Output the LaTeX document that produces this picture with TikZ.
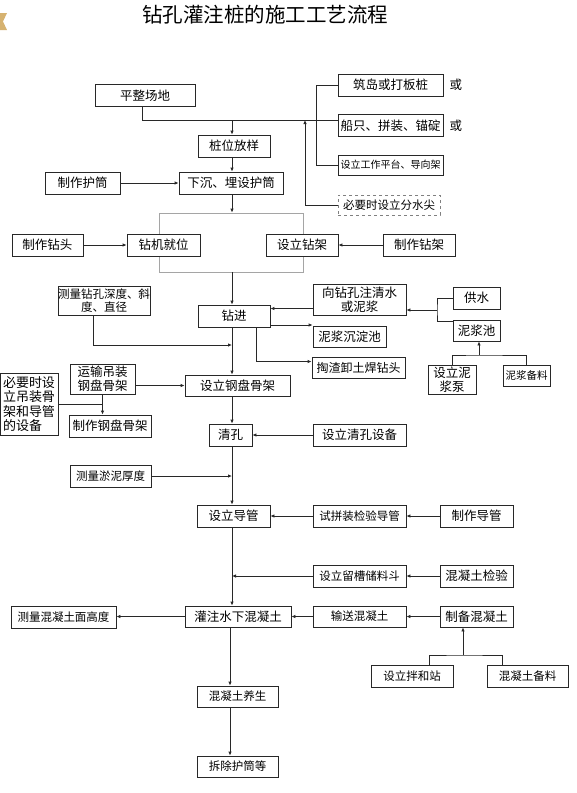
\documentclass[tikz,border=0pt]{standalone}
\usepackage{fontspec}
\setmainfont{Noto Sans CJK SC}
\usetikzlibrary{arrows.meta,positioning,calc}
\definecolor{ink}{RGB}{40,40,40}
\definecolor{frameg}{RGB}{165,165,165}
\definecolor{gold}{RGB}{214,178,112}

\begin{document}
\begin{tikzpicture}[x=1pt,y=-1pt,>={Latex[length=4pt,width=3.5pt]},
  every node/.style={font=\fontsize{12.5}{14}\selectfont,align=center},
  box/.style={draw=ink,line width=0.8pt,fill=white,inner sep=0pt,minimum height=22pt},
  tight/.style={font=\fontsize{11.5}{12.5}\selectfont},
  link/.style={draw=ink,line width=0.9pt}]
  \useasboundingbox (0,0) rectangle (576,793);
  \fill[gold] (0,13) -- (7,13) -- (3,21.5) -- (7,30) -- (0,30) -- cycle;
  \node[font=\fontsize{20.5}{22}\selectfont] (title) at (265,15) {钻孔灌注桩的施工工艺流程};
  \coordinate (spine) at (232,0);
  \coordinate (low) at (230,0);
  % top: site and platform
  \node[box,minimum width=100pt] (pzcd) at (145,95.5) {平整场地};
  \node[box,minimum width=105pt] (zd) at (390.5,85) {筑岛或打板桩};
  \node[box,minimum width=105pt] (cz) at (390.5,125.5) {船只、拼装、锚碇};
  \node[box,minimum width=105pt,minimum height=20pt,font=\fontsize{10}{11}\selectfont] (gzpt) at (390.5,165) {设立工作平台、导向架};
  \node[box,dashed,draw=gray,minimum width=102pt,minimum height=20pt,tight] (fsj) at (389,205) {必要时设立分水尖};
  \node[right=6pt of zd,inner sep=0pt] (or1) {或};
  \node[right=6pt of cz,inner sep=0pt] (or2) {或};
  \node[box,minimum width=72pt] (zwfy) at (234,146) {桩位放样};
  \node[box,minimum width=104pt] (xc) at (231,183) {下沉、埋设护筒};
  \node[box,minimum width=75pt] (zzht) at (82.5,183) {制作护筒};
  % drilling
  \node[draw=frameg,line width=0.8pt,minimum width=144pt,minimum height=59pt,inner sep=0pt] (frame) at (231,242.5) {};
  \node[box,minimum width=73pt] (zjjw) at (163.5,245) {钻机就位};
  \node[box,minimum width=72pt] (slzj) at (302,245) {设立钻架};
  \node[box,minimum width=71pt] (zzzt) at (47.5,245) {制作钻头};
  \node[box,minimum width=72pt] (zzzj) at (419,245) {制作钻架};
  \node[box,minimum width=92pt,minimum height=29pt,font=\fontsize{11.5}{13}\selectfont] (clzk) at (104,300.5) {测量钻孔深度、斜\\度、直径};
  \node[box,minimum width=72pt] (zj) at (234,316) {钻进};
  \node[box,minimum width=93pt,minimum height=31pt] (zqs) at (359.5,299.5) {向钻孔注清水\\或泥浆};
  \node[box,minimum width=47pt] (gs) at (476.5,298) {供水};
  \node[box,minimum width=47pt,minimum height=21pt] (njc) at (476.5,330.5) {泥浆池};
  \node[box,minimum width=73pt,minimum height=21pt] (ndc) at (349.5,336.5) {泥浆沉淀池};
  \node[box,minimum width=93pt,minimum height=21pt,font=\fontsize{12}{13}\selectfont] (tz) at (358.5,367.5) {掏渣卸土焊钻头};
  \node[box,minimum width=48pt,minimum height=29pt] (njb) at (452,379.5) {设立泥\\浆泵};
  \node[box,minimum width=47pt,minimum height=21pt,font=\fontsize{10.5}{12}\selectfont] (njbl) at (526.5,375.5) {泥浆备料};
  % cage
  \node[box,minimum width=58pt,minimum height=62pt,align=left,font=\fontsize{13}{14.5}\selectfont] (bybx) at (29,404) {必要时设\\立吊装骨\\架和导管\\的设备};
  \node[box,minimum width=65pt,minimum height=30pt] (ysdz) at (102.5,379) {运输吊装\\钢盘骨架};
  \node[box,minimum width=82pt] (zzgj) at (110,426) {制作钢盘骨架};
  \node[box,minimum width=105pt,minimum height=21pt] (slgj) at (237.5,385.5) {设立钢盘骨架};
  \node[box,minimum width=43pt] (qk) at (230.5,435) {清孔};
  \node[box,minimum width=93pt] (slqk) at (359.5,435) {设立清孔设备};
  \node[box,minimum width=81pt,tight] (clyn) at (110.5,476) {测量淤泥厚度};
  % tremie
  \node[box,minimum width=73pt] (sldg) at (233.5,516) {设立导管};
  \node[box,minimum width=93pt,tight] (spz) at (359.5,516) {试拼装检验导管};
  \node[box,minimum width=73pt] (zzdg) at (476.5,516) {制作导管};
  \node[box,minimum width=93pt,tight] (lc) at (359.5,576) {设立留槽储料斗};
  \node[box,minimum width=73pt] (hjy) at (476.5,576) {混凝土检验};
  % concrete
  \node[box,minimum width=106pt,minimum height=21pt] (gz) at (238,616.5) {灌注水下混凝土};
  \node[box,minimum width=105pt,tight] (clgd) at (63.5,617) {测量混凝土面高度};
  \node[box,minimum width=93pt,minimum height=21pt,tight] (ss) at (359.5,616.5) {输送混凝土};
  \node[box,minimum width=73pt,minimum height=21pt] (zb) at (476.5,616.5) {制备混凝土};
  \node[box,minimum width=82pt,tight] (bhz) at (412,676) {设立拌和站};
  \node[box,minimum width=81pt,tight] (hbl) at (527.5,676) {混凝土备料};
  \node[box,minimum width=81pt,minimum height=21pt,tight] (ys) at (237.5,696.5) {混凝土养生};
  \node[box,minimum width=81pt,minimum height=21pt,tight] (cc) at (237.5,766.5) {拆除护筒等};
  % connectors
  \coordinate (hl) at (0,120);
  \coordinate (upx) at (305,120);
  \coordinate (j1) at (232,345);
  \coordinate (gsj) at (437,310);
  \coordinate (nj) at (479,355);
  \coordinate (hz) at (463,655);
  \draw[link] ([xshift=-3pt]pzcd.south) |- (hl -| cz.west);
  \draw[link,->] (hl -| spine) -- (zwfy.north -| spine);
  \draw[link] (zd.west) -- ++(-21,0) |- (gzpt.west);
  \draw[link,->] (fsj.west) -| (upx);
  \draw[link,->] (zwfy.south -| spine) -- (xc.north -| spine);
  \draw[link,->] (zzht) -- (xc);
  \draw[link,->] (xc.south -| spine) -- (frame.north -| spine);
  \draw[link,->] (zzzt) -- (zjjw);
  \draw[link,->] (zzzj) -- (slzj);
  \draw[link,->] (frame.south -| spine) -- (zj.north -| spine);
  \draw[link,->] ([yshift=-9pt]zqs.west) -- ([yshift=-9pt]zqs.west -| zj.east);
  \draw[link,->] ([yshift=-9pt]zj.east) -- ([yshift=-9pt]zj.east -| ndc.west);
  \draw[link,->] ([xshift=22pt]zj.south) |- ([yshift=6pt]tz.west);
  \draw[link] (gs.west) -| (gsj) |- ([yshift=9pt]njc.west);
  \draw[link,->] (gsj) -- (gsj -| zqs.east);
  \draw[link] (njb.north) |- (nj) -| (njbl.north);
  \draw[link,->] (nj) -- (nj |- njc.south);
  \draw[link,->] ([xshift=-11pt]clzk.south) |- (j1);
  \draw[link,->] (zj.south -| spine) -- (slgj.north -| spine);
  \draw[link] (bybx.east) -- (bybx.east -| ysdz.south);
  \draw[link,->] (ysdz.south) -- (ysdz.south |- zzgj.north);
  \draw[link,->] (ysdz.east |- slgj.west) -- (slgj.west);
  \draw[link,->] (slgj.south -| spine) -- (qk.north -| spine);
  \draw[link,->] (slqk) -- (qk);
  \draw[link,->] (qk.south -| spine) -- (sldg.north -| spine);
  \draw[link,->] (clyn.east) -- (clyn.east -| spine);
  \draw[link,->] (spz) -- (sldg);
  \draw[link,->] (zzdg) -- (spz);
  \draw[link,->] (sldg.south -| spine) -- (gz.north -| spine);
  \draw[link,->] (lc.west) -- (lc.west -| spine);
  \draw[link,->] (hjy) -- (lc);
  \draw[link,->] (ss) -- (gz);
  \draw[link,->] (zb) -- (ss);
  \draw[link,->] (gz.west) -- (gz.west -| clgd.east);
  \draw[link] ([xshift=17pt]bhz.north) |- (hz) -| ([xshift=-25pt]hbl.north);
  \draw[link,->] (hz) -- (hz |- zb.south);
  \draw[link,->] (gz.south -| low) -- (ys.north -| low);
  \draw[link,->] (ys.south -| low) -- (cc.north -| low);
\end{tikzpicture}
\end{document}
